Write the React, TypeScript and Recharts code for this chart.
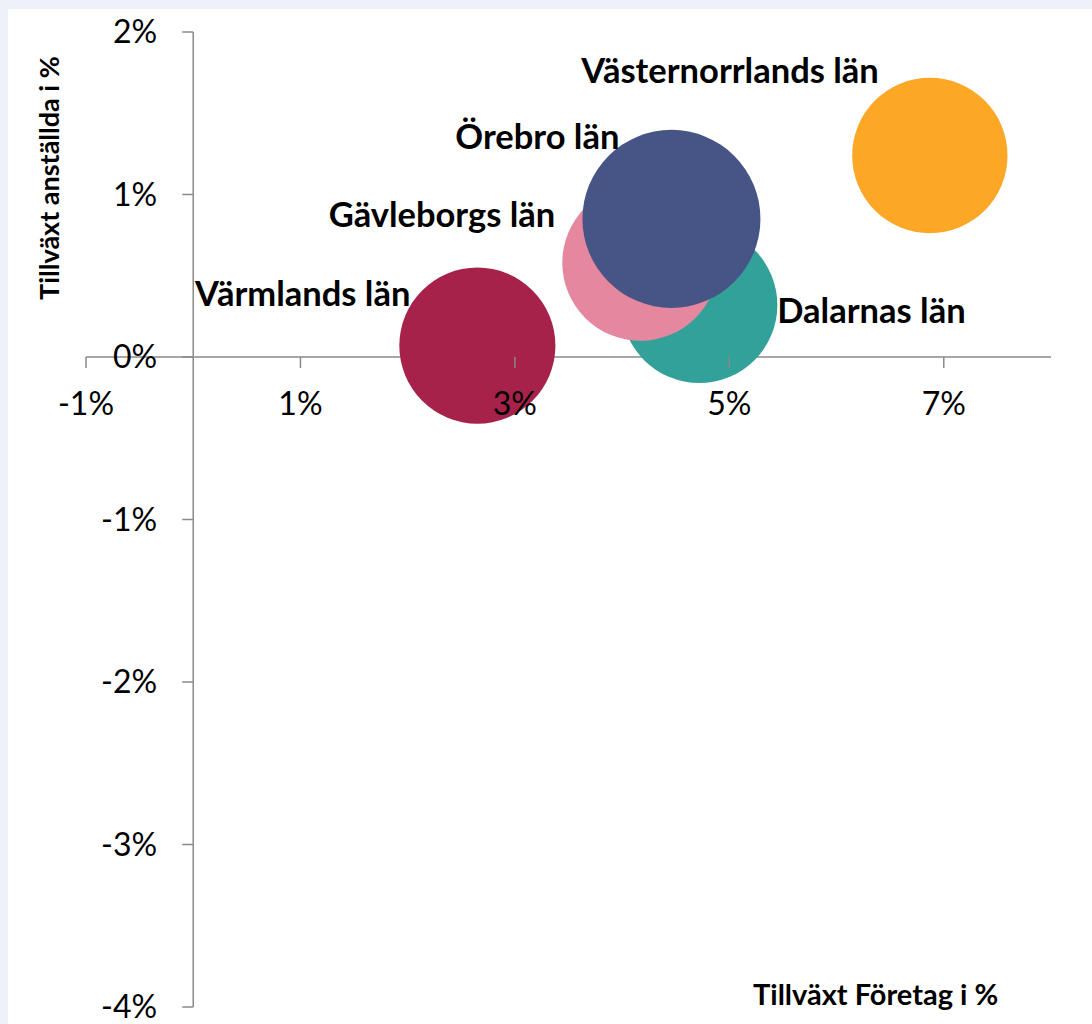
import { ScatterChart, Scatter, XAxis, YAxis, ZAxis, ReferenceLine, ReferenceDot } from 'recharts'

const regions = ['Värmlands län', 'Dalarnas län', 'Gävleborgs län', 'Örebro län', 'Västernorrlands län']
const companyGrowth = [2.65, 4.72, 4.17, 4.46, 6.87]
const employeeGrowth = [0.07, 0.32, 0.58, 0.85, 1.24]
const bubbleSize = [100, 100, 100, 130, 99]
const xTicks = [-1, 1, 3, 5, 7]
const yTicks = [2, 1, 0, -1, -2, -3, -4]

const colors: Record<string, string> = {
  'Värmlands län': '#A6224A',
  'Dalarnas län': '#32A19A',
  'Gävleborgs län': '#E687A0',
  'Örebro län': '#475586',
  'Västernorrlands län': '#FDA726',
}

// where each data label sits relative to its bubble
const labelPos: Record<string, { dx: number; dy: number; anchor: 'start' | 'end' }> = {
  'Värmlands län': { dx: -67, dy: -40, anchor: 'end' },
  'Dalarnas län': { dx: 78, dy: 18, anchor: 'start' },
  'Gävleborgs län': { dx: -85, dy: -36, anchor: 'end' },
  'Örebro län': { dx: -52, dy: -70, anchor: 'end' },
  'Västernorrlands län': { dx: -51, dy: -73, anchor: 'end' },
}

const data = regions.map((name, i) => ({
  name,
  x: companyGrowth[i],
  y: employeeGrowth[i],
  z: bubbleSize[i],
}))

const font = "Lato, 'Open Sans', sans-serif"
const axisColor = '#8A8A8A'

const Bubble = (props: any) => {
  const { cx, cy, width, payload } = props
  const r = width / 2
  const pos = labelPos[payload.name]
  return (
    <g>
      <circle cx={cx} cy={cy} r={r} fill={colors[payload.name]} />
      <text
        x={cx + pos.dx}
        y={cy + pos.dy}
        textAnchor={pos.anchor}
        fontFamily={font}
        fontWeight={700}
        fontSize={34.5}
        fill="#000"
      >
        {payload.name}
      </text>
    </g>
  )
}

const XTick = (label: string) => (props: any) => {
  const { cx, cy } = props
  return (
    <g>
      <line x1={cx} y1={cy} x2={cx} y2={cy + 11} stroke={axisColor} strokeWidth={1.5} />
      <text x={cx} y={cy + 58} textAnchor="middle" fontFamily={font} fontSize={32} fill="#000">
        {label}
      </text>
    </g>
  )
}

const YTick = (label: string) => (props: any) => {
  const { cx, cy } = props
  return (
    <g>
      <line x1={cx - 11} y1={cy} x2={cx} y2={cy} stroke={axisColor} strokeWidth={1.5} />
      <text x={cx - 36} y={cy + 11} textAnchor="end" fontFamily={font} fontSize={32} fill="#000">
        {label}
      </text>
    </g>
  )
}

export default function App() {
  return (
    <div style={{ position: 'absolute', left: 0, top: 0, width: 1092, height: 1024, background: '#EEF2F8' }}>
      <div style={{ position: 'absolute', left: 8, top: 9, right: 0, bottom: 0, background: '#fff' }} />
      <div style={{ position: 'absolute', left: 0, top: 0 }}>
        <ScatterChart width={1092} height={1024} margin={{ top: 32, right: 41, bottom: 17, left: 86 }}>
          <XAxis type="number" dataKey="x" domain={[-1, 8]} hide />
          <YAxis type="number" dataKey="y" domain={[-4, 2]} hide />
          <ZAxis type="number" dataKey="z" domain={[0, 130]} range={[0, 24885]} />
          <ReferenceLine y={0} stroke={axisColor} strokeWidth={1.5} />
          <ReferenceLine x={0} stroke={axisColor} strokeWidth={1.5} />
          <Scatter data={data} shape={Bubble} isAnimationActive={false} />
          {xTicks.map((t) => (
            <ReferenceDot key={'x' + t} x={t} y={0} r={0} shape={XTick(`${t}%`)} />
          ))}
          {yTicks.map((t) => (
            <ReferenceDot key={'y' + t} x={0} y={t} r={0} shape={YTick(`${t}%`)} />
          ))}
        </ScatterChart>
      </div>
      <div
        style={{
          position: 'absolute',
          left: 48,
          top: 178,
          transform: 'translate(-50%, -50%) rotate(-90deg)',
          whiteSpace: 'nowrap',
          fontFamily: font,
          fontWeight: 700,
          fontSize: 27,
          color: '#000',
        }}
      >
        Tillväxt anställda i %
      </div>
      <div
        style={{
          position: 'absolute',
          left: 753,
          top: 976,
          whiteSpace: 'nowrap',
          fontFamily: font,
          fontWeight: 700,
          fontSize: 29,
          color: '#000',
        }}
      >
        Tillväxt Företag i %
      </div>
    </div>
  )
}
